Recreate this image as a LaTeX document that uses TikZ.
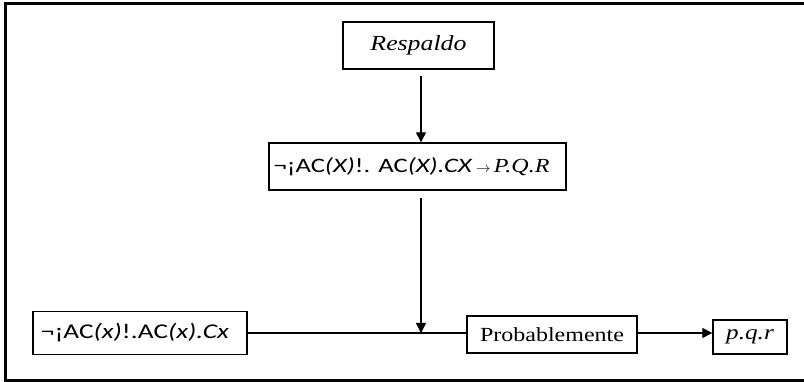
\documentclass[tikz,border=0pt]{standalone}
\usepackage{fontspec}
\setmainfont{Liberation Serif}[FakeStretch=1.2]
\newfontfamily\calfont{Carlito}[FakeStretch=1.3]
\usetikzlibrary{arrows.meta}
\tikzset{
  box/.style={draw, line width=1.4pt, inner sep=0pt, minimum width=#1},
  flow/.style={line width=1.3pt, -{Triangle[length=10pt,width=10pt]}},
  link/.style={line width=1.3pt},
}
\newcommand{\serifsize}[1]{\rmfamily\fontsize{#1}{#1}\selectfont}
\begin{document}
\begin{tikzpicture}[x=1pt,y=-1pt]
\useasboundingbox (0,0) rectangle (804,382);
% outer frame, running off the right edge
\draw[line width=3pt] (812,3.5) -- (5.5,3.5) -- (5.5,380) -- (812,380);

\node[box=151pt, minimum height=47pt] (resp) at (418.5,45.5)
  {\serifsize{21.5}\itshape Respaldo};
\node[box=297pt, minimum height=47pt] (mid) at (417.5,166.5)
  {\hspace*{-12pt}\calfont\fontsize{20.5}{20.5}\selectfont ¬¡AC\textit{(X)}!. AC\textit{(X).CX}\,{\fontsize{15}{15}\selectfont$\rightarrow$}\,{\serifsize{20}\itshape P.Q.R}};
\node[box=214pt, minimum height=43pt] (prem) at (140,333)
  {\hspace*{-10pt}\calfont\fontsize{21}{21}\selectfont ¬¡AC\textit{(x)}!.AC\textit{(x).Cx}};
\node[box=170pt, minimum height=37pt] (prob) at (552,334.5)
  {\serifsize{20}Probablemente};
\node[box=74pt, minimum height=34pt] (pqr) at (750,337)
  {\serifsize{21}\itshape p.q.r};

\coordinate (join) at (421,333);

\draw[flow] ([yshift=-6pt]resp.south -| join) -- (mid.north -| join);
\draw[flow] ([yshift=-7pt]mid.south -| join) -- (join);
\draw[link] (prem.east |- join) -- (prob.west |- join);
\draw[flow] (prob.east |- join) -- (pqr.west |- join);
\end{tikzpicture}
\end{document}
